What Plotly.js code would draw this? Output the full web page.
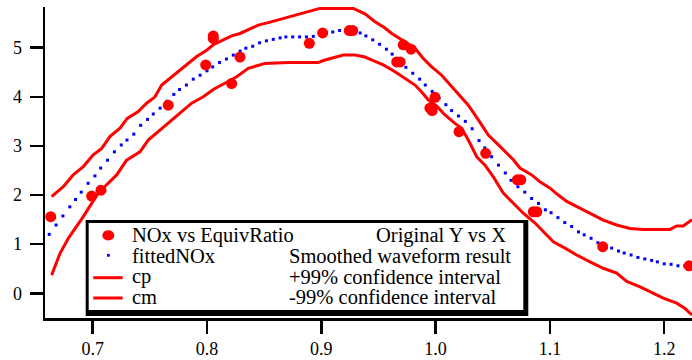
<!DOCTYPE html>
<html>
<head>
<meta charset="utf-8">
<script src="https://cdn.plot.ly/plotly-3.0.1.min.js"></script>
<style>
html,body{margin:0;padding:0;background:#fff;}
#chart{width:692px;height:360px;}
</style>
</head>
<body>
<div id="chart"></div>
<script>
// ---- data: measured points (NOx vs EquivRatio) ----
const obsX = [0.6633, 0.6991, 0.7073, 0.7661, 0.7989, 0.8055, 0.8055, 0.8216, 0.8289, 0.8895, 0.9012, 0.9245, 0.9275, 0.9660, 0.9690, 0.9717, 0.9785, 0.9950, 0.9970, 0.9995, 1.0205, 1.0438, 1.0715, 1.0745, 1.0855, 1.0885, 1.1462, 1.2217];
const obsY = [1.56, 1.98, 2.10, 3.83, 4.65, 5.19, 5.24, 4.27, 4.81, 5.09, 5.30, 5.35, 5.35, 4.71, 4.71, 5.06, 4.97, 3.77, 3.72, 3.99, 3.29, 2.85, 2.31, 2.31, 1.66, 1.66, 0.95, 0.56];

// ---- fittedNOx (smoothed waveform result) ----
const fitX = [0.662,0.668,0.674,0.680,0.685,0.690,0.696,0.702,0.707,0.713,0.719,0.725,0.730,0.736,0.742,0.748,0.753,0.759,0.765,0.771,0.776,0.782,0.788,0.794,0.800,0.805,0.811,0.817,0.823,0.829,0.834,0.840,0.846,0.852,0.858,0.864,0.869,0.875,0.881,0.887,0.893,0.899,0.904,0.910,0.916,0.922,0.928,0.934,0.939,0.945,0.951,0.957,0.962,0.968,0.974,0.980,0.986,0.991,0.997,1.003,1.009,1.014,1.020,1.026,1.032,1.038,1.043,1.049,1.055,1.061,1.066,1.072,1.078,1.084,1.090,1.096,1.101,1.107,1.113,1.119,1.125,1.130,1.136,1.142,1.148,1.154,1.160,1.165,1.171,1.177,1.183,1.189,1.194,1.200,1.206,1.212,1.218,1.223];
const fitY = [1.20,1.39,1.575,1.76,1.91,2.06,2.24,2.39,2.55,2.71,2.88,3.02,3.12,3.24,3.42,3.54,3.65,3.77,3.91,4.05,4.15,4.24,4.36,4.44,4.53,4.61,4.70,4.77,4.85,4.93,4.99,5.03,5.10,5.14,5.17,5.20,5.22,5.22,5.22,5.22,5.23,5.26,5.29,5.32,5.35,5.35,5.33,5.30,5.24,5.16,5.07,4.97,4.87,4.72,4.60,4.48,4.36,4.24,4.11,3.97,3.84,3.72,3.61,3.50,3.35,3.11,2.96,2.78,2.61,2.45,2.30,2.17,2.06,1.93,1.83,1.70,1.64,1.54,1.44,1.36,1.25,1.19,1.12,1.03,0.95,0.92,0.86,0.82,0.78,0.73,0.70,0.67,0.64,0.60,0.59,0.56,0.56,0.55];

// ---- cp: +99% confidence interval ----
const cpX = [0.6641,0.6743,0.6830,0.6918,0.7005,0.7079,0.7151,0.7239,0.7303,0.7399,0.7472,0.7545,0.7604,0.7691,0.7764,0.7822,0.7910,0.7997,0.8055,0.8143,0.8216,0.8289,0.8376,0.8449,0.8536,0.8682,0.8799,0.8886,0.8989,0.9280,0.9382,0.9470,0.9557,0.9616,0.9703,0.9820,0.9892,0.9966,1.0053,1.0141,1.0228,1.0286,1.0374,1.0461,1.0563,1.0680,1.0738,1.0841,1.0913,1.1001,1.1073,1.1147,1.1266,1.1352,1.1467,1.1584,1.1701,1.1817,1.2051,1.2109,1.2167,1.2243];
const cpY = [1.97,2.17,2.41,2.58,2.82,2.95,3.19,3.36,3.56,3.70,3.87,4.00,4.24,4.41,4.55,4.65,4.82,4.95,5.06,5.16,5.24,5.29,5.38,5.46,5.51,5.60,5.67,5.73,5.80,5.80,5.69,5.53,5.40,5.29,5.16,4.99,4.78,4.61,4.44,4.21,4.00,3.83,3.53,3.22,2.99,2.72,2.55,2.41,2.27,2.14,2.00,1.87,1.73,1.63,1.49,1.39,1.32,1.30,1.30,1.37,1.37,1.50];

// ---- cm: -99% confidence interval ----
const cmX = [0.6641,0.6714,0.6787,0.6860,0.6918,0.6991,0.7049,0.7122,0.7210,0.7297,0.7414,0.7486,0.7589,0.7691,0.7779,0.7866,0.7968,0.8055,0.8157,0.8260,0.8361,0.8449,0.8507,0.8711,0.8974,0.9032,0.9120,0.9193,0.9295,0.9382,0.9470,0.9542,0.9645,0.9732,0.9820,0.9878,0.9936,1.0010,1.0082,1.0170,1.0228,1.0286,1.0360,1.0432,1.0505,1.0592,1.0680,1.0767,1.0870,1.0957,1.1030,1.1132,1.1234,1.1351,1.1467,1.1584,1.1672,1.1789,1.1891,1.1992,1.2109,1.2182,1.2243];
const cmY = [0.37,0.81,1.12,1.36,1.56,1.83,2.04,2.21,2.41,2.71,2.88,3.12,3.33,3.53,3.70,3.87,4.00,4.15,4.28,4.41,4.58,4.65,4.68,4.70,4.70,4.75,4.81,4.85,4.85,4.81,4.72,4.65,4.51,4.38,4.24,4.10,3.94,3.81,3.63,3.46,3.36,3.12,2.78,2.61,2.37,2.04,1.83,1.63,1.43,1.22,1.05,0.92,0.78,0.64,0.51,0.41,0.24,0.13,0.01,-0.10,-0.20,-0.31,-0.44];

// ---- axis ticks ----
const xTicks = [0.7, 0.8, 0.9, 1.0, 1.1, 1.2];
const xTickText = ['0.7', '0.8', '0.9', '1.0', '1.1', '1.2'];
const yTicks = [0, 1, 2, 3, 4, 5];
const yTickText = ['0', '1', '2', '3', '4', '5'];

// ---- legend texts ----
const legendNames = ['NOx vs EquivRatio', 'fittedNOx', 'cp', 'cm'];
const legendNotes = ['Original Y vs X', 'Smoothed waveform result', '+99% confidence interval', '-99% confidence interval'];

// ---------------------------------------------------------------
const FONT = '"Liberation Serif", "Times New Roman", serif';
const RED = '#ff0000', BLUE = '#0000ff';
const L = 45, T = 7, W = 692 - 45, H = 318 - 7;
const px = x => (x - L) / W;
const py = y => (T + H - y) / H;

const traces = [
  {x: cpX, y: cpY, mode: 'lines', name: 'cp', line: {color: RED, width: 3}},
  {x: cmX, y: cmY, mode: 'lines', name: 'cm', line: {color: RED, width: 3}},
  {x: fitX, y: fitY, mode: 'markers', name: 'fittedNOx',
   marker: {color: BLUE, size: 3, symbol: 'square', line: {width: 0}}},
  {x: obsX, y: obsY, mode: 'markers', name: 'NOx vs EquivRatio',
   marker: {color: RED, size: 11, symbol: 'circle', line: {width: 0}}, cliponaxis: true}
];

// legend frame (manual, Igor-like with drop shadow)
const shapes = [
  {type: 'rect', xref: 'paper', yref: 'paper', x0: px(85.7), x1: px(528.3), y0: py(316), y1: py(220),
   fillcolor: '#000', line: {width: 0}, layer: 'above'},
  {type: 'rect', xref: 'paper', yref: 'paper', x0: px(88.7), x1: px(523.3), y0: py(310), y1: py(223),
   fillcolor: '#fff', line: {width: 0}, layer: 'above'},
  {type: 'circle', xref: 'paper', yref: 'paper', x0: px(102.3), x1: px(114.3), y0: py(240.5), y1: py(230.3),
   fillcolor: RED, line: {width: 0}, layer: 'above'},
  {type: 'rect', xref: 'paper', yref: 'paper', x0: px(107), x1: px(109.8), y0: py(256.7), y1: py(253.9),
   fillcolor: BLUE, line: {width: 0}, layer: 'above'},
  {type: 'line', xref: 'paper', yref: 'paper', x0: px(93.3), x1: px(122.7), y0: py(277.7), y1: py(277.7),
   line: {color: RED, width: 3}, layer: 'above'},
  {type: 'line', xref: 'paper', yref: 'paper', x0: px(93.3), x1: px(122.7), y0: py(298), y1: py(298),
   line: {color: RED, width: 3}, layer: 'above'}
];

const rowY = [235.3, 255.8, 276.5, 296.5];
const noteX = [375, 287.7, 288.3, 288.3];
const annotations = [];
legendNames.forEach((t, i) => annotations.push({
  text: t, xref: 'paper', yref: 'paper', x: px(130.7), y: py(rowY[i]),
  xanchor: 'left', yanchor: 'middle', showarrow: false, borderpad: 0,
  font: {family: FONT, size: 20.5, color: '#000'}
}));
legendNotes.forEach((t, i) => annotations.push({
  text: t, xref: 'paper', yref: 'paper', x: px(noteX[i]), y: py(rowY[i]),
  xanchor: 'left', yanchor: 'middle', showarrow: false, borderpad: 0,
  font: {family: FONT, size: 20.5, color: '#000'}
}));

const layout = {
  width: 692, height: 360,
  margin: {l: L, r: 0, t: T, b: 360 - T - H, pad: 0},
  paper_bgcolor: '#fff', plot_bgcolor: '#fff',
  showlegend: false,
  font: {family: FONT, size: 18, color: '#000'},
  xaxis: {
    range: [0.6583, 1.2243], tickvals: xTicks, ticktext: xTickText,
    showgrid: false, zeroline: false, showline: true, linecolor: '#000', linewidth: 2.5,
    ticks: 'outside', ticklen: 13, tickwidth: 2.5, tickcolor: '#000',
    tickfont: {family: FONT, size: 18, color: '#000'}, ticklabelstandoff: 0
  },
  yaxis: {
    range: [-0.503, 5.829], tickvals: yTicks, ticktext: yTickText,
    showgrid: false, zeroline: false, showline: true, linecolor: '#000', linewidth: 2.5,
    ticks: 'outside', ticklen: 13, tickwidth: 2.5, tickcolor: '#000',
    tickfont: {family: FONT, size: 18, color: '#000'}, ticklabelstandoff: 4
  },
  shapes: shapes,
  annotations: annotations
};

Plotly.newPlot('chart', traces, layout, {displayModeBar: false, staticPlot: true});
</script>
</body>
</html>
